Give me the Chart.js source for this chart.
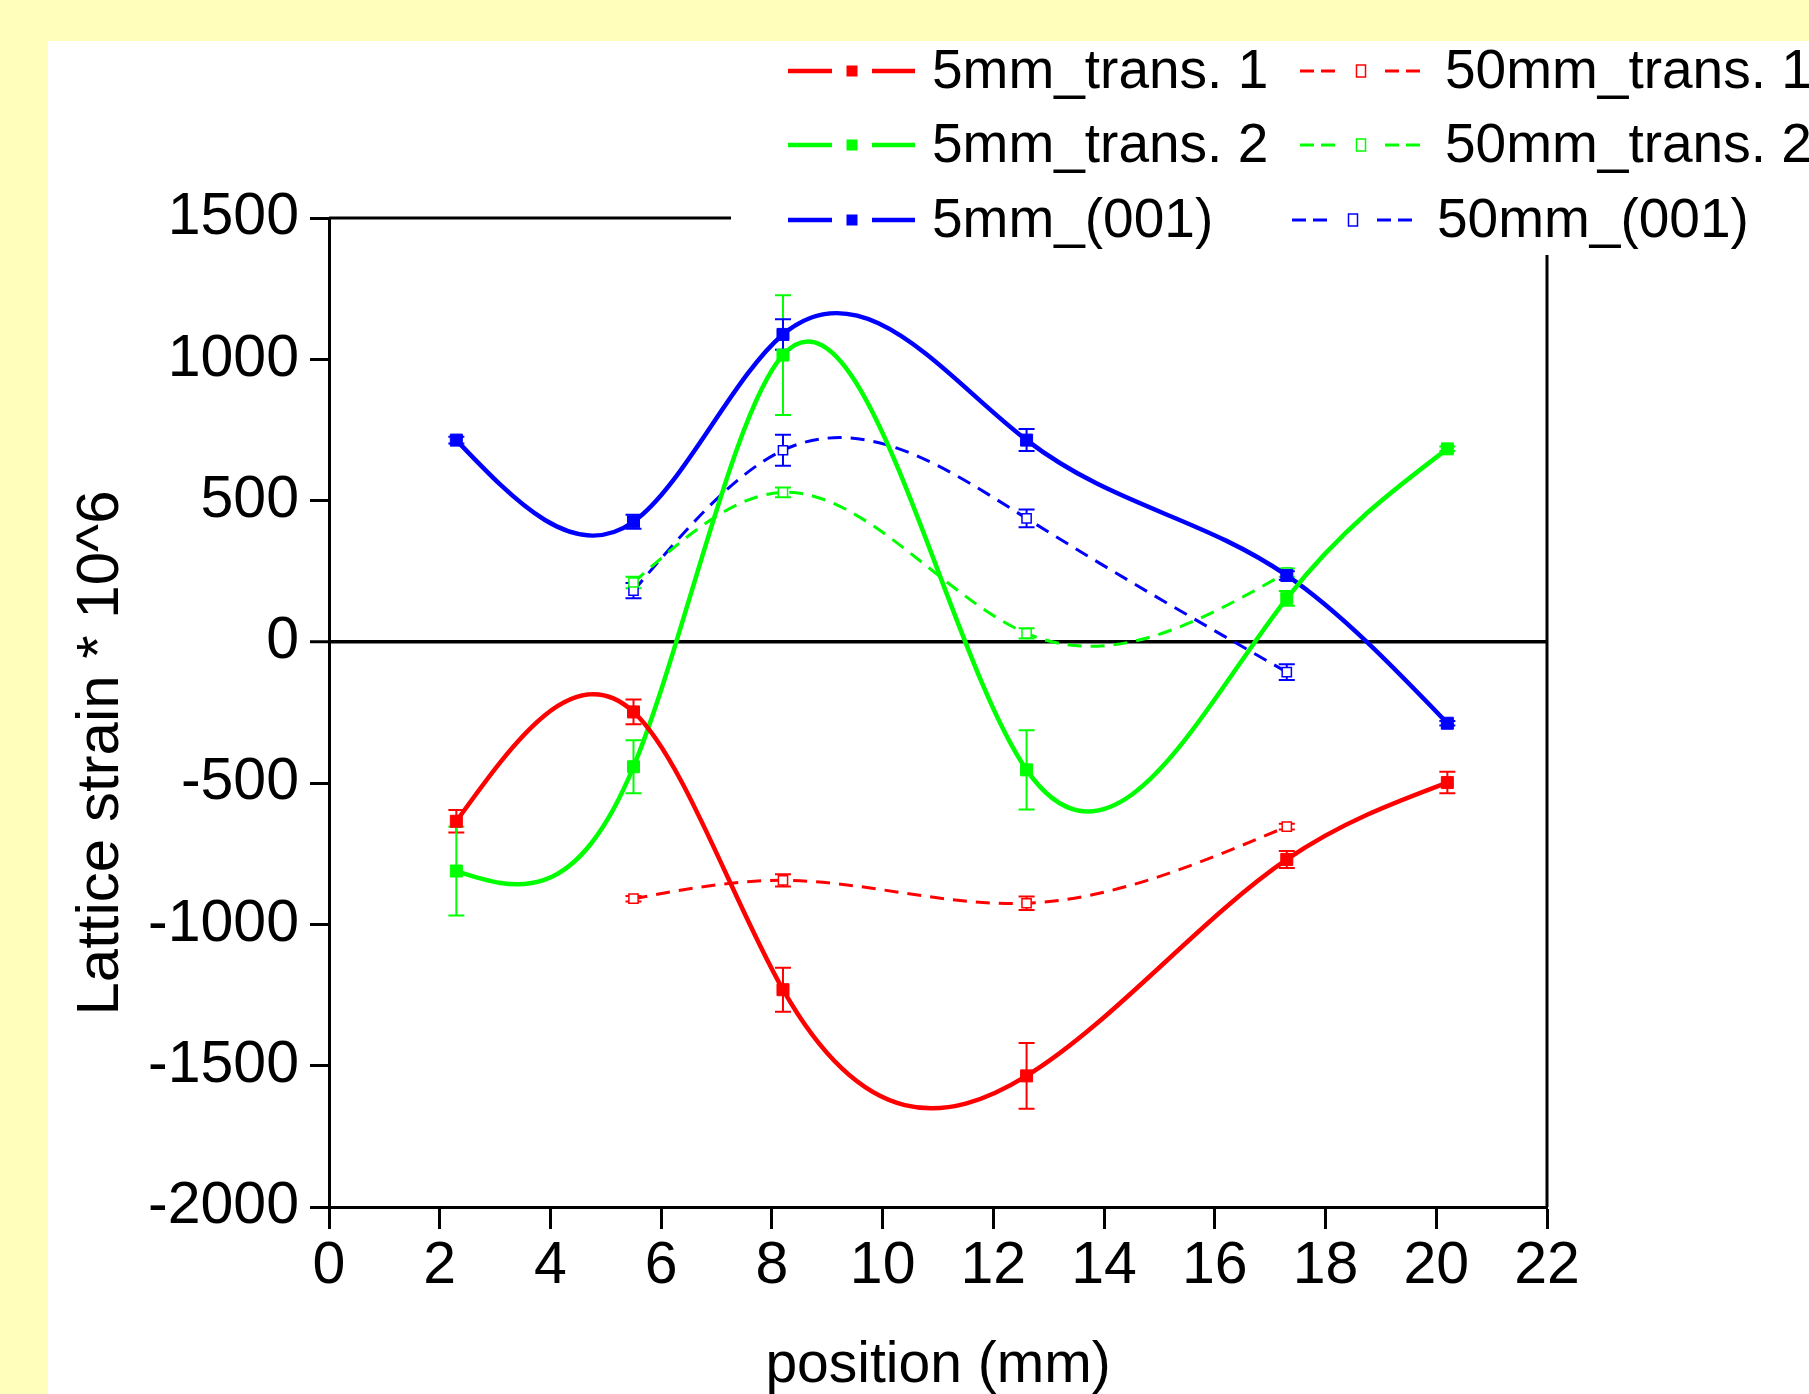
<!DOCTYPE html>
<html lang="en">
<head>
<meta charset="UTF-8">
<title>Lattice strain vs position</title>
<script src="https://cdn.jsdelivr.net/npm/chart.js"></script>
<style>
  html, body { margin: 0; padding: 0; background: #ffffbb; overflow: hidden; }
  .panel { position: absolute; left: 48px; top: 41px; width: 1761px; height: 1353px; background: #fff; }
</style>
</head>
<body>
<div class="panel"><canvas id="strain-chart" width="1761" height="1353"></canvas></div>

<script>
// positions (mm) of the measurement points
const positions5mm = [2.3, 5.5, 8.2, 12.6, 17.3, 20.2];
const positions50mm = [5.5, 8.2, 12.6, 17.3];

// lattice strain * 10^6 and error bars
const trans1_5mm = [-635, -248, -1231, -1536, -770, -498];
const trans1_5mmErr = [40, 44, 78, 116, 30, 38];
const trans2_5mm = [-811, -442, 1015, -453, 154, 683];
const trans2_5mmErr = [157, 94, 212, 140, 26, 8];
const c001_5mm = [714, 425, 1088, 714, 235, -288];
const c001_5mmErr = [12, 25, 54, 39, 15, 8];

const trans1_50mm = [-909, -844, -925, -654];
const trans1_50mmErr = [10, 22, 24, 10];
const trans2_50mm = [210, 529, 30, 245];
const trans2_50mmErr = [20, 17, 18, 15];
const c001_50mm = [181, 678, 437, -107];
const c001_50mmErr = [27, 55, 31, 28];

const seriesLabels = ['5mm_trans. 1', '5mm_trans. 2', '5mm_(001)', '50mm_trans. 1', '50mm_trans. 2', '50mm_(001)'];
const xTicks = [0, 2, 4, 6, 8, 10, 12, 14, 16, 18, 20, 22];
const yTicks = [-2000, -1500, -1000, -500, 0, 500, 1000, 1500];
const xTitle = 'position (mm)';
const yTitle = 'Lattice strain * 10^6';

const FONT = '"Liberation Sans", Arial, sans-serif';
const RED = '#ff0000', GREEN = '#00ff00', BLUE = '#0000ff';

function points(xs, ys) {
  return xs.map((x, i) => ({ x: x, y: ys[i] }));
}

function solidSet(label, color, ys, errs) {
  return {
    label: label, data: points(positions5mm, ys), errors: errs, filled: true,
    borderColor: color, backgroundColor: color, borderWidth: 4.5, tension: 0.4,
    pointStyle: 'rect', pointRadius: 8.5, pointBorderWidth: 1,
    pointBackgroundColor: color, pointBorderColor: color
  };
}

function dashedSet(label, color, ys, errs) {
  return {
    label: label, data: points(positions50mm, ys), errors: errs, filled: false,
    borderColor: color, backgroundColor: color, borderWidth: 3, borderDash: [14, 9], tension: 0.4,
    pointStyle: 'rect', pointRadius: 6.5, pointBorderWidth: 1.5,
    pointBackgroundColor: '#fff', pointBorderColor: color
  };
}

// set the bezier handles of a line so it follows a natural cubic spline
// through its points (same kind of spline line the original plot uses)
function naturalSplineControls(pts) {
  const n = pts.length - 1;
  if (n < 1) return;
  const h = [], M = new Array(n + 1).fill(0);
  for (let i = 0; i < n; i++) h.push(pts[i + 1].x - pts[i].x);
  const a = [], b = [], c = [], d = [];
  for (let i = 1; i < n; i++) {
    a.push(h[i - 1]); b.push(2 * (h[i - 1] + h[i])); c.push(h[i]);
    d.push(6 * ((pts[i + 1].y - pts[i].y) / h[i] - (pts[i].y - pts[i - 1].y) / h[i - 1]));
  }
  const m = n - 1;
  for (let k = 1; k < m; k++) {
    const w = a[k] / b[k - 1];
    b[k] -= w * c[k - 1];
    d[k] -= w * d[k - 1];
  }
  for (let k = m - 1; k >= 0; k--) {
    M[k + 1] = (d[k] - (k < m - 1 ? c[k] * M[k + 2] : 0)) / b[k];
  }
  for (let i = 0; i < n; i++) {
    const dy = (pts[i + 1].y - pts[i].y) / h[i];
    const s0 = dy - h[i] * (2 * M[i] + M[i + 1]) / 6;
    const s1 = dy + h[i] * (M[i] + 2 * M[i + 1]) / 6;
    pts[i].cp2x = pts[i].x + h[i] / 3;
    pts[i].cp2y = pts[i].y + s0 * h[i] / 3;
    pts[i + 1].cp1x = pts[i + 1].x - h[i] / 3;
    pts[i + 1].cp1y = pts[i + 1].y - s1 * h[i] / 3;
  }
}

const splineCurves = {
  id: 'splineCurves',
  beforeDatasetsDraw(chart) {
    chart.data.datasets.forEach((ds, i) => {
      const meta = chart.getDatasetMeta(i);
      meta.dataset.updateControlPoints(chart.chartArea);
      naturalSplineControls(meta.data);
    });
  }
};

// vertical error bars with caps, drawn under the markers
const errorBars = {
  id: 'errorBars',
  beforeDatasetsDraw(chart) {
    const ctx = chart.ctx, yScale = chart.scales.y;
    ctx.save();
    ctx.lineWidth = 2;
    chart.data.datasets.forEach((ds, i) => {
      const meta = chart.getDatasetMeta(i);
      ctx.strokeStyle = ds.borderColor;
      meta.data.forEach((pt, j) => {
        const v = ds.data[j].y, e = ds.errors[j];
        const top = yScale.getPixelForValue(v + e), bot = yScale.getPixelForValue(v - e);
        ctx.beginPath();
        ctx.moveTo(pt.x, top); ctx.lineTo(pt.x, bot);
        ctx.moveTo(pt.x - 8, top); ctx.lineTo(pt.x + 8, top);
        ctx.moveTo(pt.x - 8, bot); ctx.lineTo(pt.x + 8, bot);
        ctx.stroke();
      });
    });
    ctx.restore();
  }
};

// top/right frame, the legend block and both axis titles
const frameLegend = {
  id: 'frameLegend',
  afterDraw(chart) {
    const ctx = chart.ctx, a = chart.chartArea;
    ctx.save();
    ctx.strokeStyle = '#000';
    ctx.lineWidth = 3;
    ctx.beginPath();
    ctx.moveTo(a.left, a.top); ctx.lineTo(a.right, a.top); ctx.lineTo(a.right, a.bottom);
    ctx.stroke();

    // legend sits on a white block over the corner of the frame
    ctx.fillStyle = '#fff';
    ctx.fillRect(683, 0, chart.width - 683, 214);

    const rowY = [30, 104, 179];
    const cols = [
      { x0: 740, x1: 867, mx: 804, gap: 20, tx: 884 },
      { x0: 1252, x1: 1373, mx: 1313, gap: 24, tx: 1397 }
    ];
    ctx.font = '55px ' + FONT;
    ctx.textBaseline = 'middle';
    ctx.textAlign = 'left';
    chart.data.datasets.forEach((ds, i) => {
      const c = cols[ds.filled ? 0 : 1];
      const y = rowY[i % 3];
      const shift = (!ds.filled && i % 3 === 2) ? -8 : 0;
      ctx.strokeStyle = ds.borderColor;
      ctx.lineWidth = ds.filled ? 4.5 : 3;
      ctx.setLineDash(ds.filled ? [] : [14, 7]);
      ctx.beginPath();
      ctx.moveTo(c.x0 + shift, y); ctx.lineTo(c.mx - c.gap + shift, y);
      ctx.moveTo(c.mx + c.gap + shift, y); ctx.lineTo(c.x1 + shift, y);
      ctx.stroke();
      ctx.setLineDash([]);
      if (ds.filled) {
        ctx.fillStyle = ds.borderColor;
        ctx.fillRect(c.mx - 5.5 + shift, y - 5.5, 11, 11);
      } else {
        ctx.lineWidth = 1.5;
        ctx.strokeRect(c.mx - 4.5 + shift, y - 6, 9, 12);
      }
      ctx.fillStyle = '#000';
      ctx.fillText(ds.label, c.tx + shift, y + 2);
    });

    // axis titles
    ctx.font = '57px ' + FONT;
    ctx.fillStyle = '#000';
    ctx.textAlign = 'center';
    ctx.textBaseline = 'alphabetic';
    ctx.fillText(xTitle, (a.left + a.right) / 2, 1341);
    ctx.translate(70, 712);
    ctx.rotate(-Math.PI / 2);
    ctx.font = '60px ' + FONT;
    ctx.fillText(yTitle, 0, 0);
    ctx.restore();
  }
};

const ctx = document.getElementById('strain-chart').getContext('2d');
new Chart(ctx, {
  type: 'line',
  data: {
    datasets: [
      solidSet(seriesLabels[0], RED, trans1_5mm, trans1_5mmErr),
      solidSet(seriesLabels[1], GREEN, trans2_5mm, trans2_5mmErr),
      solidSet(seriesLabels[2], BLUE, c001_5mm, c001_5mmErr),
      dashedSet(seriesLabels[3], RED, trans1_50mm, trans1_50mmErr),
      dashedSet(seriesLabels[4], GREEN, trans2_50mm, trans2_50mmErr),
      dashedSet(seriesLabels[5], BLUE, c001_50mm, c001_50mmErr)
    ]
  },
  options: {
    responsive: false,
    animation: false,
    devicePixelRatio: 1,
    layout: { padding: { top: 177, right: 262, left: 0, bottom: 0 } },
    plugins: { legend: { display: false }, tooltip: { enabled: false } },
    scales: {
      x: {
        type: 'linear', min: 0, max: 22,
        afterBuildTicks: s => { s.ticks = xTicks.map(v => ({ value: v })); },
        afterFit: s => { s.height = 187; },
        border: { display: true, color: '#000', width: 3 },
        grid: { drawOnChartArea: false, drawTicks: true, tickColor: '#000', tickWidth: 3, tickLength: 22 },
        ticks: { color: '#000', font: { family: FONT, size: 59 }, padding: 2, maxRotation: 0, autoSkip: false, callback: v => String(v) },
        title: { display: false, text: xTitle }
      },
      y: {
        type: 'linear', min: -2000, max: 1500,
        afterBuildTicks: s => { s.ticks = yTicks.map(v => ({ value: v })); },
        afterFit: s => { s.width = 281; },
        border: { display: true, color: '#000', width: 3 },
        grid: {
          drawOnChartArea: true, drawTicks: true,
          color: c => (c.tick && c.tick.value === 0) ? '#000' : 'rgba(0,0,0,0)',
          lineWidth: c => (c.tick && c.tick.value === 0) ? 3.5 : 1,
          tickColor: '#000', tickWidth: 3, tickLength: 19
        },
        ticks: { color: '#000', font: { family: FONT, size: 59 }, padding: 11, autoSkip: false, callback: v => String(v) },
        title: { display: false, text: yTitle }
      }
    }
  },
  plugins: [errorBars, splineCurves, frameLegend]
});
</script>
</body>
</html>
